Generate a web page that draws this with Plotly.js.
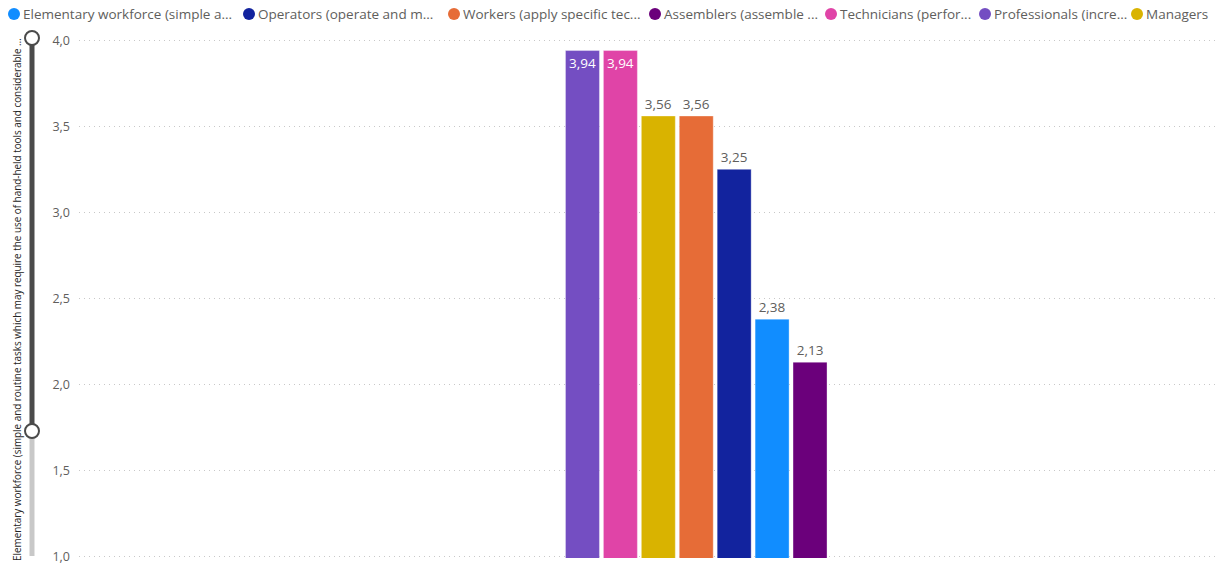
<!DOCTYPE html>
<html>
<head>
<meta charset="utf-8">
<script src="https://cdn.plot.ly/plotly-3.0.1.min.js"></script>
<style>html,body{margin:0;padding:0;background:#fff;}#chart{width:1224px;height:565px;}</style>
</head>
<body>
<div id="chart"></div>
<script>
// ---- data ----
const categories = ['Overall'];
const seriesNames = [
  'Elementary workforce (simple a...',
  'Operators (operate and m...',
  'Workers (apply specific tec...',
  'Assemblers (assemble ...',
  'Technicians (perfor...',
  'Professionals (incre...',
  'Managers'
];
const seriesValues = [2.38, 3.25, 3.56, 2.13, 3.94, 3.94, 3.56];
const seriesColors = ['#118DFF', '#12239E', '#E66C37', '#6B007B', '#E044A7', '#744EC2', '#D9B300'];
// order of bars in the cluster (sorted descending by value)
const barOrder = [5, 4, 6, 2, 1, 0, 3];
const yTicks = [1.0, 1.5, 2.0, 2.5, 3.0, 3.5, 4.0];
const yTickText = ['1,0', '1,5', '2,0', '2,5', '3,0', '3,5', '4,0'];
const yAxisTitle = 'Elementary workforce (simple and routine tasks which may require the use of hand-held tools and considerable …';

// ---- geometry helpers (pixel -> paper) ----
const W = 1224, H = 565;
const M = {l: 79, r: 9, t: 39, b: 7};
const PW = W - M.l - M.r, PH = H - M.t - M.b;
const px = x => (x - M.l) / PW;
const py = y => (H - M.b - y) / PH;

const traces = barOrder.map((i, k) => {
  const inside = seriesValues[i] > 3.8;
  return {
    type: 'bar',
    name: seriesNames[i],
    x: categories,
    y: [seriesValues[i]],
    marker: {color: seriesColors[i], line: {color: 'rgba(255,255,255,0.35)', width: 1}},
    texttemplate: '%{y:.2f}',
    textposition: inside ? 'inside' : 'outside',
    insidetextanchor: 'end',
    textangle: 0,
    textfont: {family: 'Open Sans', size: 13.5, color: inside ? '#ffffff' : '#605E5C'},
    cliponaxis: false,
    hoverinfo: 'name+y'
  };
});

// custom legend (single row, compact like the original)
const legendCircleX = [14, 249, 454, 655, 831, 985, 1137];
const legendY = 14;
const shapes = [];
const annotations = [];
seriesNames.forEach((n, i) => {
  shapes.push({
    type: 'circle', xref: 'paper', yref: 'paper',
    xsizemode: 'pixel', ysizemode: 'pixel',
    xanchor: px(legendCircleX[i]), yanchor: py(legendY),
    x0: -6, x1: 6, y0: -6, y1: 6,
    fillcolor: seriesColors[i], line: {width: 0}
  });
  annotations.push({
    xref: 'paper', yref: 'paper',
    x: px(legendCircleX[i] + 7), y: py(legendY),
    xanchor: 'left', yanchor: 'middle',
    text: n, showarrow: false,
    font: {family: 'Open Sans', size: 13.5, color: '#605E5C'}
  });
});

// y-axis title
annotations.push({
  xref: 'paper', yref: 'paper',
  x: px(17), y: py(300),
  xanchor: 'center', yanchor: 'middle',
  textangle: -90, text: yAxisTitle, showarrow: false,
  font: {family: 'Open Sans', size: 9.9, color: '#252423'}
});

// zoom slider on the left
const sx = 32;
shapes.push({type: 'line', xref: 'paper', yref: 'paper', x0: px(sx), x1: px(sx), y0: py(431), y1: py(556),
  line: {color: '#c8c8c8', width: 5}});
shapes.push({type: 'line', xref: 'paper', yref: 'paper', x0: px(sx), x1: px(sx), y0: py(40), y1: py(431),
  line: {color: '#4a4a4a', width: 5}});
[38, 431].forEach(yy => {
  shapes.push({
    type: 'circle', xref: 'paper', yref: 'paper',
    xsizemode: 'pixel', ysizemode: 'pixel',
    xanchor: px(sx), yanchor: py(yy),
    x0: -7, x1: 7, y0: -7, y1: 7,
    fillcolor: '#ffffff', line: {color: '#4a4a4a', width: 2}
  });
});

const layout = {
  width: W, height: H,
  margin: M,
  paper_bgcolor: '#ffffff', plot_bgcolor: '#ffffff',
  font: {family: 'Open Sans', color: '#605E5C'},
  separators: ',.',
  showlegend: false,
  barmode: 'group',
  bargap: 0,
  bargroupgap: 0.104,
  xaxis: {
    type: 'category',
    range: [-2.325, 1.954],
    showticklabels: false, showgrid: false, zeroline: false, showline: false, ticks: ''
  },
  yaxis: {
    range: [0.993, 4.007],
    tickmode: 'array',
    tickvals: yTicks,
    ticktext: yTickText,
    ticks: '',
    ticklabelstandoff: 8,
    ticklabeloverflow: 'allow',
    tickfont: {family: 'Open Sans', size: 12.5, color: '#605E5C'},
    showgrid: true, gridcolor: '#c8c8c8', griddash: '1px,4px', gridwidth: 1,
    zeroline: false, showline: false
  },
  shapes: shapes,
  annotations: annotations
};

Plotly.newPlot('chart', traces, layout, {displayModeBar: false, staticPlot: true});
</script>
</body>
</html>
